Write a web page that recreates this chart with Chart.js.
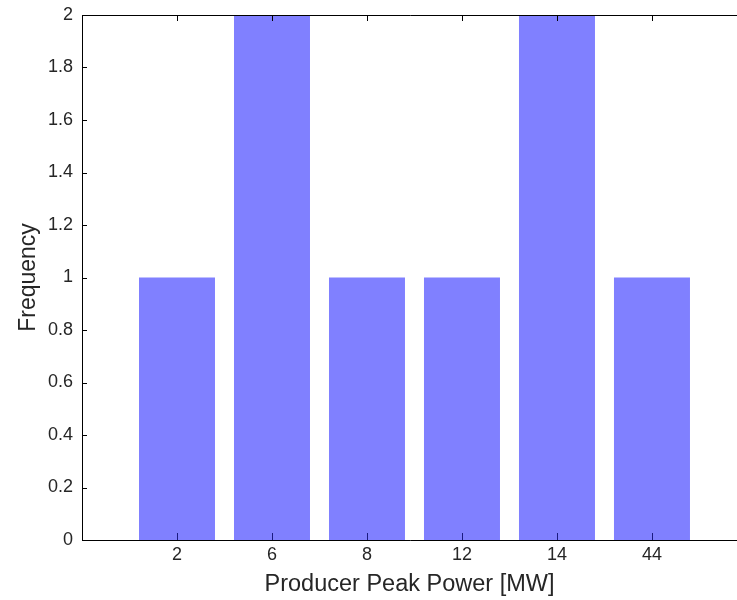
<!DOCTYPE html>
<html>
<head>
<meta charset="utf-8">
<script src="https://cdn.jsdelivr.net/npm/chart.js@4/dist/chart.umd.min.js"></script>
<style>
  html, body { margin: 0; padding: 0; background: #fff; overflow: hidden; }
  #wrap { width: 737px; height: 600px; }
</style>
</head>
<body>
<div id="wrap"><canvas id="c" width="737" height="600"></canvas></div>
<script>
const categories = ['2', '6', '8', '12', '14', '44'];
const frequency = [1, 2, 1, 1, 2, 1];
const yTicks = [0, 0.2, 0.4, 0.6, 0.8, 1, 1.2, 1.4, 1.6, 1.8, 2];

const FONT = "'Liberation Sans', Arial, Helvetica, sans-serif";
const TEXT = '#262626';

// Axes frame (left, bottom, top) with inward MATLAB-style ticks.
// The right edge of the original axes box lies outside the 737px picture.
const framePlugin = {
  id: 'frame',
  afterDatasetsDraw(chart) {
    const { ctx, chartArea: a, scales } = chart;
    ctx.save();
    ctx.lineWidth = 1;
    ctx.strokeStyle = '#000';
    ctx.beginPath();
    ctx.moveTo(a.right + 1, a.top + 0.5);
    ctx.lineTo(a.left + 0.5, a.top + 0.5);
    ctx.lineTo(a.left + 0.5, a.bottom + 0.5);
    ctx.lineTo(a.right + 1, a.bottom + 0.5);
    ctx.stroke();
    scales.x.ticks.forEach(t => {
      const x = Math.round(scales.x.getPixelForValue(t.value)) + 0.5;
      ctx.strokeStyle = '#1a1a80';
      ctx.beginPath();
      ctx.moveTo(x, a.bottom);
      ctx.lineTo(x, a.bottom - 7);
      ctx.stroke();
      ctx.strokeStyle = '#000';
      ctx.beginPath();
      ctx.moveTo(x, a.top);
      ctx.lineTo(x, a.top + 6);
      ctx.stroke();
    });
    ctx.strokeStyle = '#000';
    scales.y.ticks.forEach(t => {
      const y = Math.round(scales.y.getPixelForValue(t.value)) + 0.5;
      ctx.beginPath();
      ctx.moveTo(a.left, y);
      ctx.lineTo(a.left + 5, y);
      ctx.stroke();
    });
    ctx.restore();
  }
};

new Chart(document.getElementById('c'), {
  type: 'bar',
  data: {
    datasets: [{
      data: frequency.map((v, i) => ({ x: i + 1, y: v })),
      backgroundColor: '#8080ff',
      borderWidth: 0,
      barPercentage: 0.8,
      categoryPercentage: 1.0
    }]
  },
  options: {
    responsive: false,
    animation: false,
    layout: { padding: { top: 15, right: 0, left: 0, bottom: 0 } },
    plugins: { legend: { display: false }, tooltip: { enabled: false } },
    scales: {
      x: {
        type: 'linear',
        min: 0,
        max: 6.895,
        offset: false,
        afterBuildTicks(scale) {
          scale.ticks = categories.map((c, i) => ({ value: i + 1 }));
        },
        afterFit(scale) {
          scale.height = 60;
          scale.paddingLeft = 0;
          scale.paddingRight = 0;
        },
        ticks: {
          autoSkip: false,
          maxRotation: 0,
          padding: 4,
          color: TEXT,
          font: { family: FONT, size: 18 },
          callback: (v) => categories[v - 1] ?? ''
        },
        grid: { display: false, drawTicks: false },
        border: { display: false },
        title: {
          display: true,
          text: 'Producer Peak Power [MW]',
          color: TEXT,
          font: { family: FONT, size: 23.5 },
          padding: { top: 0, bottom: 1 }
        }
      },
      y: {
        min: 0,
        max: 2,
        afterBuildTicks(scale) {
          scale.ticks = yTicks.map(v => ({ value: v }));
        },
        afterFit(scale) {
          scale.width = 82;
          scale.paddingTop = 0;
          scale.paddingBottom = 0;
        },
        ticks: {
          padding: 9,
          color: TEXT,
          font: { family: FONT, size: 18 },
          callback: (v) => String(v)
        },
        grid: { display: false, drawTicks: false },
        border: { display: false },
        title: {
          display: true,
          text: 'Frequency',
          color: TEXT,
          font: { family: FONT, size: 23 },
          padding: { top: 15, bottom: 0 }
        }
      }
    }
  },
  plugins: [framePlugin]
});
</script>
</body>
</html>
